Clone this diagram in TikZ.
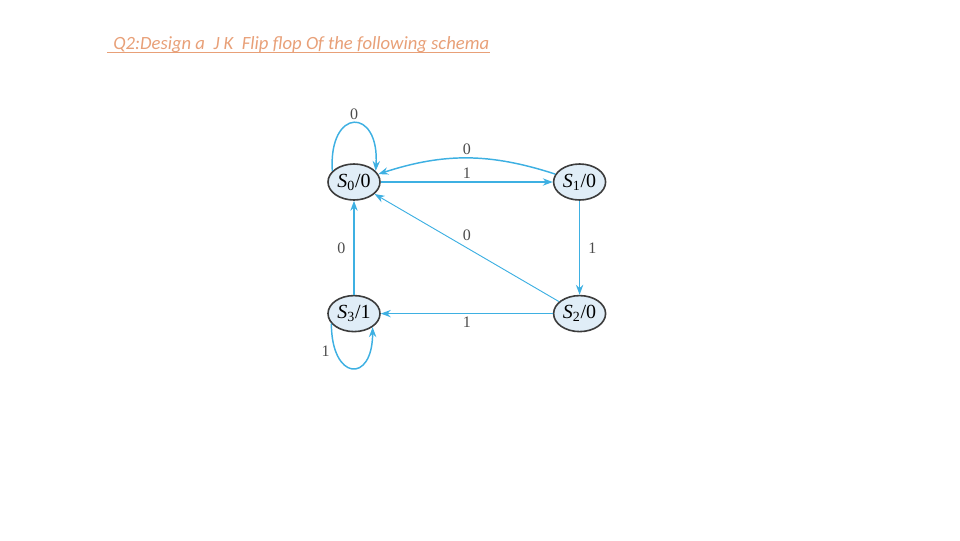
\documentclass[tikz,border=0pt]{standalone}
\usepackage{fontspec}
\setmainfont{Liberation Serif}
\newfontfamily\titlefont{Carlito}
\usepackage{xcolor}
\usepackage{tikz}
\usetikzlibrary{shapes.geometric,arrows.meta,positioning,calc}
\definecolor{titlecolor}{RGB}{232,160,120}
\definecolor{edgecolor}{RGB}{62,176,226}
\definecolor{statefill}{RGB}{224,237,247}
\definecolor{stateline}{RGB}{60,60,60}

\begin{document}
\begin{tikzpicture}[x=0.75pt,y=-0.75pt,node distance=70.5pt and 129pt,stnode/.style={draw=stateline,line width=1.2pt,ellipse,fill=statefill,minimum width=39pt,minimum height=27pt,inner sep=0pt,font=\fontsize{15}{17}\selectfont},arr/.style={->,>={Stealth[length=7.5pt,width=5.5pt]},draw=edgecolor,line width=1.1pt},lbl/.style={font=\fontsize{12}{14}\selectfont,text=black!70,inner sep=2pt}]
\useasboundingbox (0,0) rectangle (960,540);
\node[anchor=base west,inner sep=0pt,text=titlecolor,font=\titlefont\itshape\fontsize{14}{16}\selectfont](title) at (113,49.5){Q2:Design a\ \ J K\ \ Flip flop Of the following schema};
\draw[titlecolor,line width=0.7pt] ([xshift=-4.5pt,yshift=-2.4pt]title.base west) -- ([yshift=-2.4pt]title.base east);
\node[stnode](s0) at (354,182){{\itshape S}\textsubscript{0}/0}; \node[stnode,right=of s0](s1){{\itshape S}\textsubscript{1}/0};
\node[stnode,below=of s1](s2){{\itshape S}\textsubscript{2}/0}; \node[stnode,below=of s0](s3){{\itshape S}\textsubscript{3}/1};
\draw[arr](s0.153) .. controls +(-4,-64) and +(4,-64) .. node[lbl,above]{0} (s0.27);
\draw[arr](s1) to[bend right=18] node[lbl,above]{0} (s0); \draw[arr](s0) -- node[lbl,above]{1} (s1);
\draw[arr](s1) -- node[lbl,right=4pt]{1} (s2); \draw[arr,line width=0.7pt](s2) -- node[lbl,above=3pt]{0} (s0);
\draw[arr](s2) -- node[lbl,below]{1} (s3); \draw[arr](s3) -- node[lbl,left=4pt]{0} (s0);
\draw[arr](s3.204) .. controls +(0,57) and +(0,57) .. node[lbl,pos=0.2,left=2pt]{1} (s3.324);
\end{tikzpicture}
\end{document}
